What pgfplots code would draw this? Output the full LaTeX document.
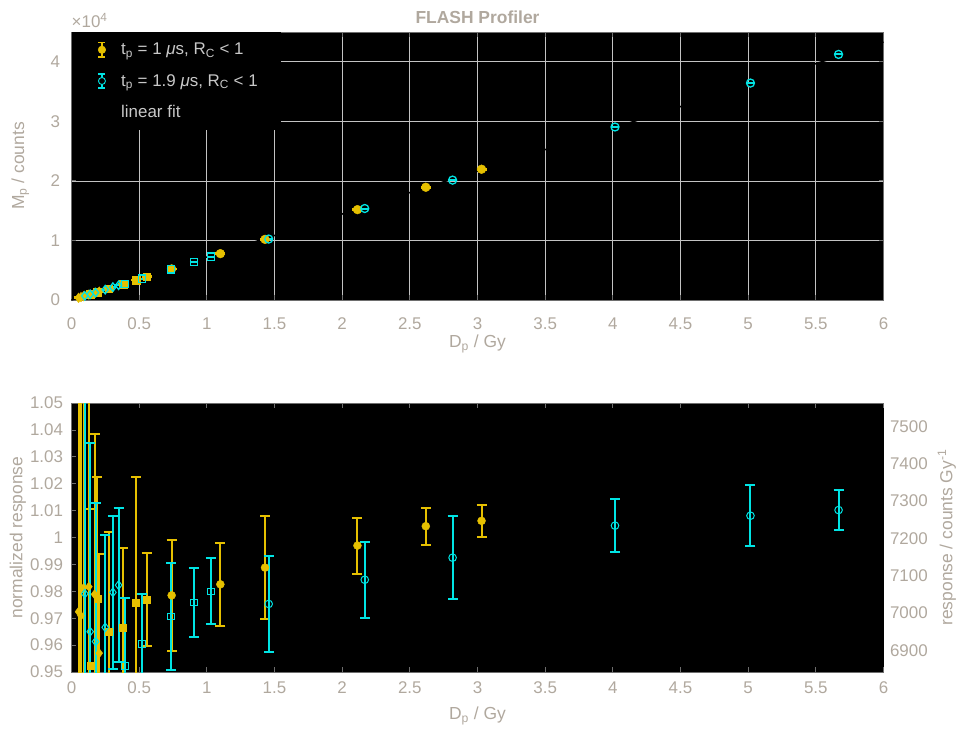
\documentclass[border=0pt]{standalone}
\usepackage{fontspec}
\setmainfont{Liberation Sans}
\usepackage{pgfplots}
\pgfplotsset{compat=1.18}
\definecolor{yel}{RGB}{230,192,0}
\definecolor{cya}{RGB}{0,228,228}
\definecolor{txt}{RGB}{176,168,158}
\definecolor{legtxt}{RGB}{200,200,200}
\definecolor{gridc}{RGB}{195,195,195}
\definecolor{framec}{RGB}{110,110,110}

\pgfplotsset{
  base/.style={
    scale only axis, width=812bp,
    xmin=0, xmax=6, xtick={0,0.5,...,6},
    axis line style={framec, line width=0.8bp},
    tick style={framec, line width=0.8bp}, major tick length=5bp,
    tick label style={text=txt, font=\fontsize{17}{20}\selectfont},
    label style={text=txt, font=\fontsize{17.5}{20}\selectfont},
    /pgf/number format/assume math mode=true,
    /pgf/number format/1000 sep={},
    xlabel={D\textsubscript{p} / Gy},
    xlabel style={at={(axis description cs:0.5,-0.164)}, anchor=center},
  },
  yser/.style={only marks, color=yel, mark size=#1, mark options={fill=yel, draw=yel},
    error bars/y dir=both, error bars/y explicit,
    error bars/error bar style={line width=2bp, draw=yel},
    error bars/error mark options={rotate=90, mark size=5bp, line width=2bp, draw=yel}},
  cser/.style={only marks, color=cya, mark size=#1, mark options={fill=black, draw=cya, line width=1bp},
    error bars/y dir=both, error bars/y explicit,
    error bars/error bar style={line width=2bp, draw=cya},
    error bars/error mark options={rotate=90, mark size=5bp, line width=2bp, draw=cya}},
  ctop/.style={only marks, color=cya, mark size=#1, mark options={fill=none, draw=cya, line width=1.3bp},
    error bars/y dir=both, error bars/y explicit,
    error bars/error bar style={line width=1.3bp, draw=cya},
    error bars/error mark options={rotate=90, mark size=4.2bp, line width=1.3bp, draw=cya}},
  yleg/.style={legend image code/.code={
    \draw[yel, line width=1.4bp] (0.3cm,-2.5mm) -- (0.3cm,2.5mm);
    \draw[yel, line width=1.4bp] (0.3cm-3.5bp,-2.5mm) -- (0.3cm+3.5bp,-2.5mm);
    \draw[yel, line width=1.4bp] (0.3cm-3.5bp,2.5mm) -- (0.3cm+3.5bp,2.5mm);
    \fill[yel] (0.3cm,0) circle (3.8bp);}},
  cleg/.style={legend image code/.code={
    \draw[cya, line width=1.4bp] (0.3cm,-2.5mm) -- (0.3cm,2.5mm);
    \draw[cya, line width=1.4bp] (0.3cm-3.5bp,-2.5mm) -- (0.3cm+3.5bp,-2.5mm);
    \draw[cya, line width=1.4bp] (0.3cm-3.5bp,2.5mm) -- (0.3cm+3.5bp,2.5mm);
    \filldraw[fill=black, draw=cya, line width=0.9bp] (0.3cm,0) circle (3.5bp);}},
  fleg/.style={legend image code/.code={
    \draw[black, line width=1.5bp] (0cm,0cm) -- (0.6cm,0cm);}},
}

\begin{document}
\begin{tikzpicture}
\useasboundingbox (-71.5bp,-431bp) rectangle (891.5bp,300bp);

% top: counts versus dose
\begin{axis}[base, name=topax, at={(0,0)}, height=268bp,
  axis background/.style={fill=black},
  xticklabel style={yshift=-14bp},
  yticklabel style={xshift=-8bp},
  ymin=0, ymax=45000, scaled y ticks=false,
  ytick={0,10000,20000,30000,40000}, yticklabels={0,1,2,3,4},
  grid=major, major grid style={gridc, line width=0.7bp},
  ylabel={M\textsubscript{p} / counts},
  ylabel style={at={(axis description cs:-0.063,0.5)}, anchor=center},
  title={FLASH Profiler},
  title style={text=txt, font=\bfseries\fontsize{17.5}{20}\selectfont, yshift=-1bp},
  legend style={at={(rel axis cs:0,1)}, anchor=north west, fill=black, draw=none,
    text=legtxt, font=\fontsize{17}{20}\selectfont,
    inner xsep=21bp, inner ysep=9bp, row sep=14bp,
    /tikz/every odd column/.append style={column sep=8bp}},
  legend cell align=left,
]
\addlegendimage{yleg}
\addlegendentry{t\textsubscript{p} = 1 {\itshape μ}s, R\textsubscript{C} < 1}
\addlegendimage{cleg}
\addlegendentry{t\textsubscript{p} = 1.9 {\itshape μ}s, R\textsubscript{C} < 1}
\addlegendimage{fleg}
\addlegendentry{linear fit}

\addplot[black, line width=1.5bp, forget plot] coordinates {(0,0) (6,43300)};

\addplot[yser=4.4bp, mark=*, forget plot] table[x=x, y=y, y error=e] {
x y e
0.740 5215 60
1.100 7784 60
1.430 10183 60
2.113 15172 60
2.618 18934 60
3.030 21957 60
};
\addplot[yser=3.8bp, mark=square*, forget plot] table[x=x, y=y, y error=e] {
x y e
0.140 960 60
0.190 1337 60
0.274 1904 60
0.382 2659 60
0.478 3359 60
0.555 3904 60
};
\addplot[yser=4.8bp, mark=diamond*, forget plot] table[x=x, y=y, y error=e] {
x y e
0.052 364 60
0.070 489 60
0.089 629 60
0.128 905 60
0.170 1199 60
0.205 1413 60
};
\addplot[ctop=4.2bp, mark=diamond, forget plot] table[x=x, y=y, y error=e] {
x y e
0.098 691 60
0.138 959 60
0.178 1232 60
0.249 1733 60
0.306 2159 60
0.348 2462 60
};
\addplot[ctop=3.6bp, mark=square, forget plot] table[x=x, y=y, y error=e] {
x y e
0.397 2723 60
0.520 3597 60
0.737 5152 60
0.905 6360 60
1.030 7270 60
};
\addplot[ctop=4bp, mark=o, forget plot] table[x=x, y=y, y error=e] {
x y e
1.457 10234 60
2.167 15362 60
2.816 20129 60
4.016 29050 60
5.017 36425 60
5.668 41237 60
};
\end{axis}
\node[text=txt, font=\fontsize{17}{20}\selectfont, anchor=south west, inner sep=0pt]
  at ([yshift=4bp]topax.north west) {×10\textsuperscript{4}};

% bottom: right-hand axis in counts per Gy
\begin{axis}[base, at={(0,-372bp)}, height=269bp,
  axis x line=none, axis y line*=right,
  ymin=6841.9, ymax=7562.1, ytick={6900,7000,...,7500},
  scaled y ticks=false,
  yticklabel style={xshift=3bp},
  ylabel={response / counts Gy\textsuperscript{-1}},
  ylabel style={at={(axis description cs:1.078,0.5)}, anchor=center},
]
\addplot[draw=none, forget plot] coordinates {(0,7000)};
\end{axis}

% bottom: normalized response
\begin{axis}[base, at={(0,-372bp)}, height=269bp,
  axis background/.style={fill=black},
  xticklabel style={yshift=-6bp},
  yticklabel style={xshift=-5bp},
  axis y line*=left,
  ymin=0.95, ymax=1.05,
  ytick={0.95,0.96,0.97,0.98,0.99,1,1.01,1.02,1.03,1.04,1.05},
  ylabel={normalized response},
  ylabel style={at={(axis description cs:-0.066,0.5)}, anchor=center},
]
\addplot[yser=4bp, mark=*] table[x=x, y=y, y error=e] {
x y e
0.740 0.9785 0.0207
1.100 0.9826 0.0155
1.430 0.9888 0.0192
2.113 0.9970 0.0104
2.618 1.0042 0.0069
3.030 1.0062 0.0060
};
\addplot[yser=3.5bp, mark=square*] table[x=x, y=y, y error=e] {
x y e
0.140 0.9522 0.0585
0.190 0.9774 0.0450
0.274 0.9650 0.0370
0.382 0.9665 0.0297
0.478 0.9758 0.0468
0.555 0.9768 0.0173
};
\addplot[yser=4.6bp, mark=diamond*] table[x=x, y=y, y error=e] {
x y e
0.052 0.9724 0.1000
0.070 0.9709 0.1000
0.089 0.9812 0.1000
0.128 0.9817 0.1000
0.170 0.9789 0.0596
0.205 0.9570 0.0370
};
\addplot[cser=4.4bp, mark=diamond] table[x=x, y=y, y error=e] {
x y e
0.098 0.9791 0.1000
0.138 0.9650 0.0700
0.178 0.9613 0.0516
0.249 0.9666 0.0343
0.306 0.9796 0.0283
0.348 0.9823 0.0285
};
\addplot[cser=3.3bp, mark=square] table[x=x, y=y, y error=e] {
x y e
0.397 0.9522 0.0253
0.520 0.9604 0.0186
0.737 0.9706 0.0198
0.905 0.9758 0.0127
1.030 0.9800 0.0122
};
\addplot[cser=3.8bp, mark=o] table[x=x, y=y, y error=e] {
x y e
1.457 0.9753 0.0179
2.167 0.9843 0.0142
2.816 0.9925 0.0154
4.016 1.0044 0.0098
5.017 1.0081 0.0113
5.668 1.0102 0.0075
};
\end{axis}
\end{tikzpicture}
\end{document}
